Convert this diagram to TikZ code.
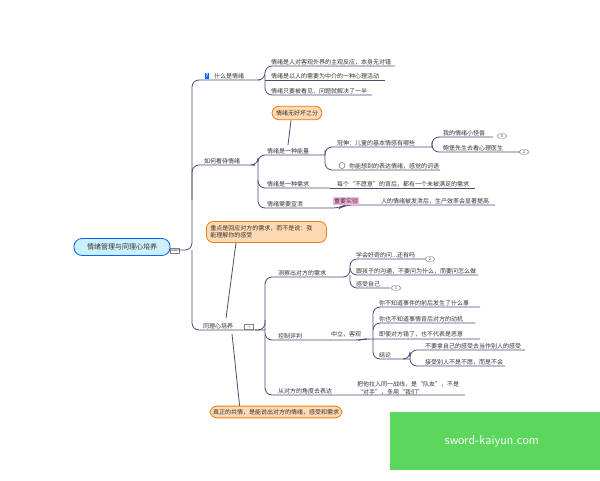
\documentclass[tikz,border=0pt]{standalone}
\usepackage{fontspec}
\setmainfont{Noto Sans CJK SC}
\definecolor{wmg}{HTML}{5CD65C}
\begin{document}
\begin{tikzpicture}[x=1pt,y=-1pt,
  every node/.style={font=\fontsize{6}{7.5}\selectfont,text=black!80,inner sep=1pt},
  ln/.style={draw=black!55!blue!40!gray,line width=0.8pt,rounded corners=7pt},
  lf/.style={anchor=south west},
  call/.style={draw=orange!60!brown,fill=orange!30!white,rounded corners=7pt,line width=0.8pt,inner sep=4pt,align=left},
  badge/.style={draw=gray,rounded corners=3pt,minimum width=9pt,minimum height=5pt,inner sep=0.3pt,font=\fontsize{4}{4}\selectfont}]
\useasboundingbox (0,0) rectangle (600,480);
\fill[white] (0,0) rectangle (600,480);
% root
\node[draw=blue!60!cyan,fill=cyan!20,rounded corners=8pt,line width=0.8pt,minimum width=96pt,minimum height=17pt,font=\fontsize{7}{8}\selectfont] (root) at (122,247) {情绪管理与同理心培养};
\node[badge,rounded corners=0pt] (ri) at (175,251) {$-$};
\draw[ln] (root.east)++(0,3) -- (192,250) -- (192,80) -- (260,80);
\draw[ln] (192,200) -- (192,165) -- (255,165);
\draw[ln] (192,250) -- (192,330) -- (265,330);
% branch 1
\node[fill=blue!60!cyan,text=white,inner sep=0.8pt,font=\fontsize{5}{5}\selectfont\bfseries] (q) at (207,76) {?};
\node[lf] (b1) at (213,80) {什么是情绪};
\draw[ln] (258,80) -- (265,80) -- (265,66) -- (395,66);
\draw[ln] (265,80) -- (385,80);
\draw[ln] (265,75) -- (265,95) -- (372,95);
\node[lf] (l11) at (270,66) {情绪是人对客观外界的主观反应，本身无对错};
\node[lf] (l12) at (270,80) {情绪是以人的需要为中介的一种心理活动};
\node[lf] (l13) at (270,95) {情绪只要被看见，问题就解决了一半};
% branch 2
\node[lf] (b2) at (203,165) {如何看待情绪};
\draw[ln] (255,165) -- (258,165) -- (258,155) -- (325,155);
\draw[ln] (258,160) -- (258,188) -- (330,188);
\draw[ln] (258,180) -- (258,208) -- (330,208);
\node[lf] (e1) at (266,155) {情绪是一种能量};
\node[lf] (e2) at (266,188) {情绪是一种需求};
\node[lf] (e3) at (266,208) {情绪需要宣泄};
\node[call] (c1) at (297,113) {情绪无好坏之分};
\coordinate (c1e) at (288,145);
\draw[ln] ([xshift=-6pt]c1.south) -- (c1e);
\draw[ln] (325,155) -- (325,147) -- (432,147);
\draw[ln] (325,150) -- (325,170) -- (440,170);
\node[lf] (s1) at (336,147) {冠伸：儿童的基本情感有哪些};
\draw[gray,line width=0.6pt] (342,165.5) circle (3pt);
\node[lf] (s2) at (348,170) {你能想到的表达情绪，感觉的词语};
\draw[ln] (432,147) -- (432,137) -- (493,137);
\draw[ln] (432,142) -- (432,152) -- (520,152);
\node[lf] (m1) at (442,137) {我的情绪小怪兽};
\node[lf] (m2) at (442,152) {鲍堡先生去看心理医生};
\node[badge] (bd1) at (502,136) {5};
\node[badge] (bd2) at (524,152) {2};
\draw[ln] (330,188) -- (475,188);
\node[lf] (s3) at (336,188) {每个“不愿意”的背后，都有一个未被满足的需求};
\draw[ln] (330,208) -- (340,208) -- (345,205) -- (495,205);
\node[fill=magenta!30,inner sep=1pt] (hl) at (346,201) {重要实验};
\node[lf] (s4) at (380,205) {人的情绪被发泄后，生产效率会显著提高};
% callout 2
\node[call,text width=112pt,anchor=north west] (c2) at (206,221) {重点是回应对方的需求，而不是说：我\\能理解你的感受};
\coordinate (c2e) at (226,318);
\draw[ln] ([xshift=30pt]c2.south west) -- (c2e);
% branch 3
\node[lf] (b3) at (202,330) {同理心培养};
\node[badge,rounded corners=0pt] (bi) at (249,327) {$-$};
\draw[ln] (255,330) -- (265,330) -- (265,277) -- (335,277);
\draw[ln] (265,320) -- (265,340) -- (330,340);
\draw[ln] (265,335) -- (265,395) -- (465,395);
\node[lf] (t1) at (277,277) {洞察出对方的需求};
\node[lf] (t2) at (277,340) {控制评判};
\node[lf] (t3) at (277,395) {从对方的角度去表达};
\draw[ln] (335,277) -- (350,277) -- (350,259) -- (425,259);
\draw[ln] (350,270) -- (350,275) -- (478,275);
\draw[ln] (350,275) -- (350,288) -- (390,288);
\node[lf] (u1) at (355,259) {学会好奇的问...还有吗};
\node[lf] (u2) at (355,275) {跟孩子的沟通，不要问为什么，而要问怎么做};
\node[lf] (u3) at (355,288) {感受自己};
\node[badge] (bd3) at (430,259) {2};
\node[badge] (bd4) at (396,288) {1};
\draw[ln] (330,340) -- (360,340) -- (365,339) -- (480,339);
\node[lf] (v0) at (330,338) {中立，客观};
\draw[ln] (373,339) -- (373,307) -- (480,307);
\draw[ln] (373,330) -- (373,323) -- (475,323);
\draw[ln] (373,339) -- (373,359) -- (410,359);
\node[lf] (v1) at (378,307) {你不知道事件的前后发生了什么事};
\node[lf] (v2) at (378,323) {你也不知道事情背后对方的动机};
\node[lf] (v3) at (378,338) {即使对方错了，也不代表是恶意};
\node[lf] (v4) at (378,359) {结论};
\draw[ln] (405,359) -- (410,359) -- (410,350) -- (525,350);
\draw[ln] (410,355) -- (410,366) -- (505,366);
\node[lf] (w1) at (424,350) {不要拿自己的感受去当作别人的感受};
\node[lf] (w2) at (424,366) {接受别人不是不愿，而是不会};
\node[align=left,anchor=south west] (x1) at (356,396) {把他拉入同一战线，是“队友”，不是\\ “对手”，多用“我们”};
% callout 3
\node[call,inner sep=3pt] (c3) at (276,412) {真正的共情，是能说出对方的情绪，感受和需求};
\coordinate (c3s) at (232,334);
\draw[ln] (c3s) -- ([xshift=30pt]c3.north west);
% watermark
\fill[wmg] (390,412) rectangle (600,470);
\node[text=white,font=\fontsize{13}{15}\selectfont\sffamily] (wm) at (492,441) {sword-kaiyun.com};
\end{tikzpicture}
\end{document}
